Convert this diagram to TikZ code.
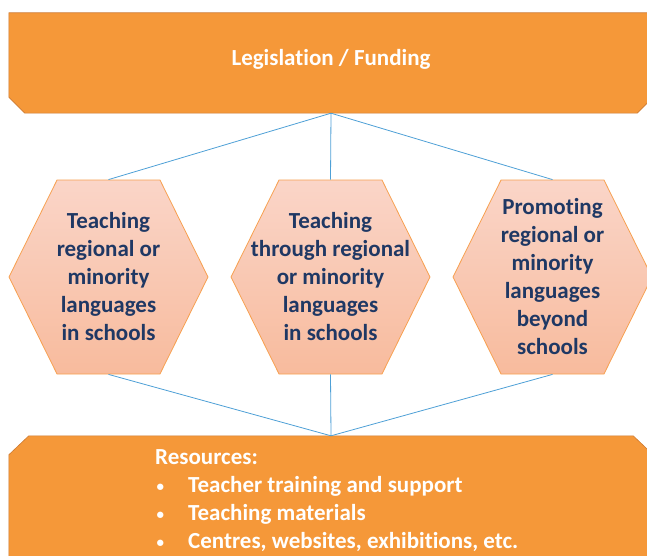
\documentclass[tikz,border=0pt]{standalone}
\usepackage{fontspec}
\setmainfont{Carlito}[Ligatures=NoCommon]
\usetikzlibrary{shapes.symbols,backgrounds}
\definecolor{barfill}{RGB}{245,152,57}
\definecolor{barline}{RGB}{205,122,50}
\definecolor{hextop}{RGB}{250,213,200}
\definecolor{hexbottom}{RGB}{248,187,157}
\definecolor{hexline}{RGB}{247,160,80}
\definecolor{hextext}{RGB}{31,56,100}
\definecolor{linkblue}{RGB}{78,160,214}
\tikzset{
  bar/.style={rectangle,minimum width=644pt,inner sep=0pt},
  barshape/.style={fill=barfill,draw=barline,line width=0.6pt},
  hexa/.style={signal,signal to=west and east,signal pointer angle=127.3,
    minimum width=199pt,minimum height=194pt,inner ysep=0pt,inner xsep=-32pt,
    top color=hextop,bottom color=hexbottom,draw=hexline,line width=0.8pt,
    align=center,text=hextext,font=\bfseries\fontsize{23}{28}\selectfont},
  link/.style={draw=linkblue,line width=0.8pt}
}
\newcommand{\resitem}{\makebox[33pt][l]{\raisebox{1pt}{\fontsize{15}{15}\selectfont\hspace{1.5pt}•}}}
\begin{document}
\begin{tikzpicture}[x=1pt,y=-1pt]
  \useasboundingbox (0,0) rectangle (647,556);
  \clip (0,0) rectangle (647,556);
  % top and bottom banners
  \node[bar,minimum height=100pt,text=white,text depth=10.5pt,
    font=\bfseries\fontsize{23}{26}\selectfont] (topbar) at (331,63) {Legislation / Funding};
  \node[bar,minimum height=200pt] (basebar) at (331,536) {};
  \begin{scope}[on background layer]
    \path[barshape] (topbar.north west) -- (topbar.north east)
      -- ([yshift=16pt]topbar.south east) -- ([xshift=-16pt]topbar.south east)
      -- ([xshift=16pt]topbar.south west) -- ([yshift=16pt]topbar.south west) -- cycle;
    \path[barshape] (basebar.south west) -- ([yshift=-19pt]basebar.north west)
      -- ([xshift=20pt]basebar.north west) -- ([xshift=-20pt]basebar.north east)
      -- ([yshift=-19pt]basebar.north east) -- (basebar.south east) -- cycle;
  \end{scope}
  % three fields
  \node[hexa] (hexleft) at (108.5,277) {Teaching\\regional or\\minority\\languages\\in schools};
  \node[hexa] (hexmid) at (330.5,277) {Teaching\\through regional\\or minority\\languages\\in schools};
  \node[hexa] (hexright) at (552.5,277) {Promoting\\regional or\\minority\\languages\\beyond\\schools};
  % links
  \foreach \h in {hexleft,hexmid,hexright}{
    \draw[link] (topbar.south) -- (\h.north);
    \draw[link] (\h.south) -- (basebar.north);
  }
  \node[anchor=north west,inner sep=0pt,align=left,text=white,
    font=\bfseries\fontsize{23}{28}\selectfont] (reslist) at (155,449) {Resources:\\
    \resitem Teacher training and support\\
    \resitem Teaching materials\\
    \resitem Centres, websites, exhibitions, etc.};
\end{tikzpicture}
\end{document}
